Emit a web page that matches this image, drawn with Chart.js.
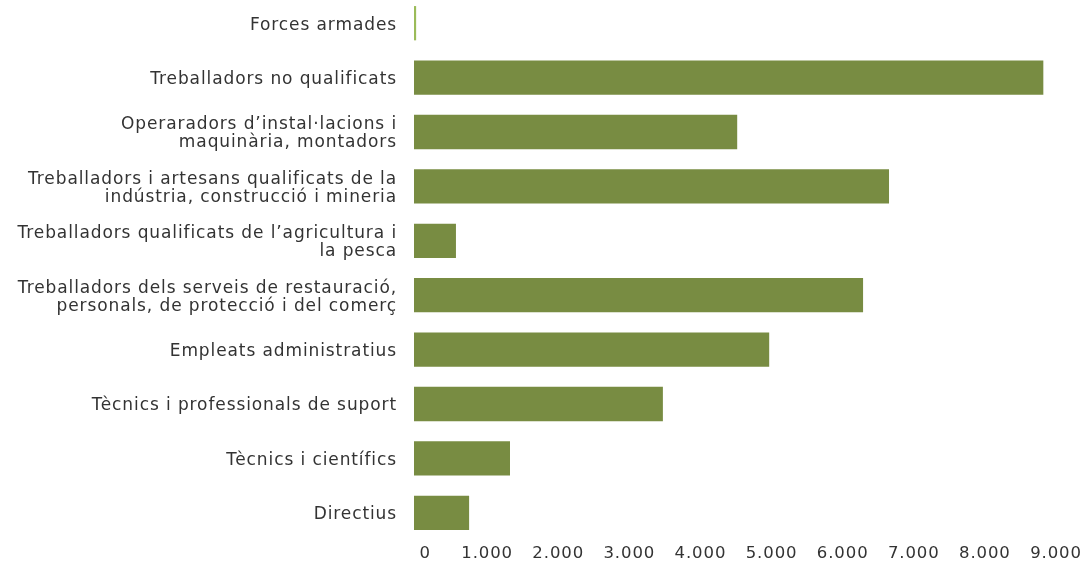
<!DOCTYPE html>
<html>
<head>
<meta charset="utf-8">
<script src="https://cdn.jsdelivr.net/npm/chart.js@4.4.1/dist/chart.umd.min.js"></script>
<style>
  html, body { margin: 0; padding: 0; background: #fff; overflow: hidden; }
  #wrap { position: absolute; left: 0; top: -4px; width: 1091px; height: 567px; }
</style>
</head>
<body>
<div id="wrap"><canvas id="barChart"></canvas></div>
<script>
// categories, top to bottom
const categories = [
    'Forces armades',
    'Treballadors no qualificats',
    ['Operaradors d\u2019instal\u00b7lacions i', 'maquin\u00e0ria, montadors'],
    ['Treballadors i artesans qualificats de la', 'ind\u00fastria, construcci\u00f3 i mineria'],
    ['Treballadors qualificats de l\u2019agricultura i', 'la pesca'],
    ['Treballadors dels serveis de restauraci\u00f3,', 'personals, de protecci\u00f3 i del comer\u00e7'],
    'Empleats administratius',
    'T\u00e8cnics i professionals de suport',
    'T\u00e8cnics i cient\u00edfics',
    'Directius'
];
const values = [30, 8850, 4545, 6680, 590, 6315, 4995, 3500, 1350, 775];
const barColors = ['#9bbb59', '#788c42', '#788c42', '#788c42', '#788c42', '#788c42', '#788c42', '#788c42', '#788c42', '#788c42'];
const xTicks = [0, 1000, 2000, 3000, 4000, 5000, 6000, 7000, 8000, 9000];

// 0 label sits a little to the right in the original
const fmt = v => v === 0 ? '   0' : String(v).replace(/\B(?=(\d{3})+(?!\d))/g, '.');

// slightly wider text spacing like the original
const spacing = {
    id: 'spacing',
    beforeDraw(chart) { chart.ctx.letterSpacing = '0.9px'; }
};

const ctx = document.getElementById('barChart');
new Chart(ctx, {
    type: 'bar',
    data: {
        labels: categories,
        datasets: [{
            data: values,
            backgroundColor: barColors,
            borderWidth: 0,
            barPercentage: 0.63,
            categoryPercentage: 1
        }]
    },
    options: {
        indexAxis: 'y',
        responsive: true, maintainAspectRatio: false,
        animation: false,
        layout: { padding: { left: 0, right: 37, top: 0, bottom: 0 } },
        scales: {
            x: {
                min: 0, max: 9000,
                grid: { display: false, drawTicks: false },
                border: { display: false },
                afterBuildTicks: s => { s.ticks = xTicks.map(v => ({ value: v })); },
                afterFit: s => { s.height = 23; },
                ticks: {
                    color: '#333', padding: 4, labelOffset: 2, maxRotation: 0, autoSkip: false,
                    font: { family: 'DejaVu Sans', size: 16.5 },
                    callback: v => fmt(v)
                }
            },
            y: {
                grid: { display: false, drawTicks: false },
                border: { display: false },
                afterFit: s => { s.width = 414; s.paddingTop = 0; s.paddingBottom = 0; },
                ticks: {
                    color: '#333', padding: 17, labelOffset: 2, autoSkip: false,
                    font: { family: 'DejaVu Sans', size: 17, lineHeight: 1.05 }
                }
            }
        },
        plugins: { legend: { display: false }, tooltip: { enabled: false } }
    },
    plugins: [spacing]
});
</script>
</body>
</html>
